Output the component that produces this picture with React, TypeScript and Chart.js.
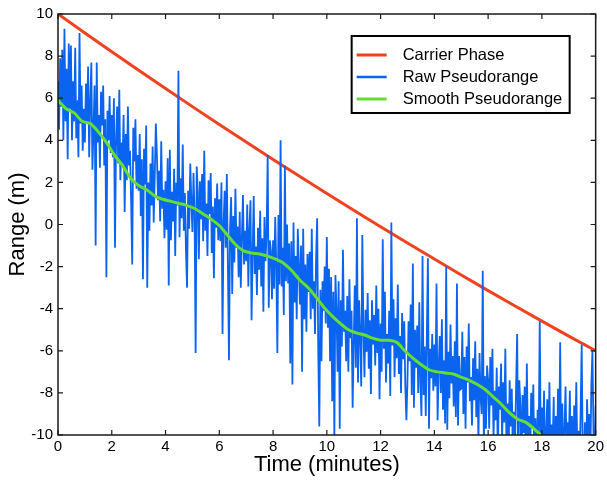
import { useEffect, useRef } from "react";
import { Chart, registerables } from "chart.js";

Chart.register(...registerables);

// ---- data ----
const xTickValues = [0, 2, 4, 6, 8, 10, 12, 14, 16, 18, 20];
const yTickValues = [-10, -8, -6, -4, -2, 0, 2, 4, 6, 8, 10];

const carrierTime = [0, 1, 2, 3, 4, 5, 6, 7, 8, 9, 10, 11, 12, 13, 14, 15, 16, 17, 18, 19, 20];
const carrierPhase = [10, 9.1, 8.21, 7.33, 6.46, 5.6, 4.75, 3.92, 3.09, 2.28, 1.47, 0.68, -0.11, -0.88, -1.64, -2.4, -3.14, -3.87, -4.59, -5.3, -6.0];

const smoothTime = [0, 0.3, 0.6, 0.9, 1.2, 1.5, 1.8, 2.1, 2.4, 2.7, 3.0, 3.3, 3.6, 3.9, 4.2, 4.5, 4.8, 5.1, 5.4, 5.7, 6.0, 6.3, 6.6, 6.9, 7.2, 7.5, 7.8, 8.1, 8.4, 8.7, 9.0, 9.3, 9.6, 9.9, 10.2, 10.5, 10.8, 11.1, 11.4, 11.7, 12.0, 12.3, 12.6, 12.9, 13.2, 13.5, 13.8, 14.1, 14.4, 14.7, 15.0, 15.3, 15.6, 15.9, 16.2, 16.5, 16.8, 17.1, 17.4, 17.7, 18.0, 18.3];
const smoothPseudorange = [5.9, 5.5, 5.3, 4.9, 4.8, 4.4, 3.9, 3.3, 2.8, 2.2, 1.85, 1.65, 1.35, 1.2, 1.1, 1.0, 0.9, 0.75, 0.5, 0.25, -0.05, -0.5, -0.95, -1.25, -1.35, -1.4, -1.5, -1.65, -1.85, -2.2, -2.65, -3.0, -3.45, -3.95, -4.35, -4.7, -5.0, -5.15, -5.25, -5.4, -5.5, -5.5, -5.6, -6.0, -6.35, -6.65, -6.9, -7.0, -7.05, -7.1, -7.25, -7.4, -7.6, -7.85, -8.2, -8.55, -8.95, -9.25, -9.4, -9.7, -10.05, -10.3];

// raw samples every 0.04 min (one row per minute)
const rawStartTime = 0;
const rawSampleMinutes = 0.04;
const rawPseudorange = [
  6.8, 4.5, 7.9, 5.6, 8.3, 4.0, 9.3, 4.9, 7.4, 3.1, 8.6, 5.5, 8.5, 4.0, 6.8, 4.9, 8.4, 4.1, 5.9, 3.2, 9.1, 4.8, 6.6, 3.5, 5.5,
  3.9, 6.7, 4.8, 7.5, 3.2, 5.8, 7.7, 2.6, 4.5, 6.6, -1.0, 7.7, 3.9, 5.2, 2.7, 6.3, 4.7, 6.6, 2.8, 5.0, -2.5, 5.4, 4.0, 6.1, 3.4,
  5.2, 3.2, 6.0, -1.1, 4.1, 5.6, 2.9, 6.4, 2.1, 3.9, 2.9, 5.2, 0.6, 4.3, 2.1, 5.6, 2.8, 3.5, 1.1, -1.9, 4.6, 3.0, 5.0, 1.7, 3.3,
  1.6, 4.3, 0.4, 3.1, -2.6, 3.6, 1.9, 4.7, -3.0, 2.0, -0.3, 2.9, 0.9, 3.7, 0.1, 2.4, 4.8, 3.25, 1.15, 2.55, 0.15, 3.95, 0.75, 1.65, -0.65,
  2.05, -0.25, 3.15, -2.9, 3.55, -0.75, 1.55, 0.15, 2.65, -1.5, 2.0, 0.9, 7.3, -0.6, 2.2, 0.3, 3.8, -0.3, 1.5, -1.2, -3.0, 1.6, -0.2, 2.9, 1.1,
  -0.35, 2.45, 0.55, -6.1, 2.75, 1.55, -1.65, 2.05, 0.25, 2.4, -0.8, 3.5, -0.3, 1.0, -1.5, 2.1, 0.5, 2.45, -1.35, 0.85, -2.55, 1.25, -0.15, 1.95, -0.75,
  1.2, -0.8, 2.0, -5.2, 0.1, 1.6, -1.1, 2.4, -1.9, -6.45, -0.2, 1.3, -3.3, 0.4, -1.8, 1.7, -1.1, -0.1, -2.5, 0.6, -3.0, -0.6, 1.4, -1.9, -0.3,
  -1.75, 0.95, -2.95, -0.25, 1.15, -4.55, -1.45, 1.35, -2.35, -1.05, -3.35, -0.15, -2.15, 0.65, -2.95, -0.65, -4.15, 0.35, -1.75, -0.35, 3.3, -3.95, -0.75, -1.25, -3.55,
  -0.75, -3.05, 0.35, -1.95, -6.1, 0.45, -2.85, 4.0, -2.95, -1.1, -4.3, 2.8, -2.7, 0.0, -2.8, -0.9, -6.6, -0.8, -7.6, 0.1, -3.7, -1.5, -4.5, -0.2, -2.0,
  -3.8, -1.0, -7.0, -0.2, -4.5, -1.9, -5.1, -1.4, -3.2, -1.3, -4.5, -0.2, -4.0, -2.7, -5.2, -1.6, 0.3, -5.9, -9.6, -3.1, -6.5, -2.7, -4.1, -2.0, -4.7,
  -0.6, -4.9, -2.1, -6.5, -2.5, -8.4, -3.2, -10.3, -2.4, -4.0, -7.0, -2.7, -9.7, -3.6, -5.8, -1.2, -5.1, -4.1, -6.5, -3.4, -7.0, -2.6, -5.4, -4.1, -8.7,
  -5.6, -2.9, -6.8, 0.3, -7.5, -3.6, -5.3, -7.7, -0.5, -4.95, -7.25, -4.05, -6.05, -3.25, -6.85, -4.55, -8.05, -3.6, -5.7, -4.3, -6.7, -2.9, -6.1, -4.0, -8.3,
  -4.7, -7.0, -0.7, -5.9, -3.2, -7.5, -5.2, -6.6, -4.1, -8.15, 0.1, -5.75, -3.55, -7.25, -4.45, -6.35, -2.85, -7.1, -5.3, -8.0, -4.2, -6.4, -4.6, -7.7, -9.3,
  -7.4, -4.6, -6.5, -3.8, -8.1, -1.85, -8.7, -5.0, -6.8, -4.8, -8.0, -3.7, -7.5, -9.1, -1.5, -8.1, -5.8, -9.1, -5.3, -1.6, -9.7, -5.9, -7.3, -5.2, -7.9,
  -5.7, -7.7, -2.8, -9.3, -6.8, -5.3, -8.0, -4.5, -8.8, -6.45, -9.45, -2.0, -9.75, -6.05, -8.25, -4.75, -7.55, -6.25, -8.65, -5.55, -9.15, -2.8, -9.55, -6.25, -7.85,
  -7.8, -5.1, -9.0, -6.3, -9.7, -5.8, -7.5, -4.7, -8.4, -7.25, -9.55, -6.35, -8.35, -5.55, -9.15, -6.85, -10.35, -6.1, -8.2, -9.0, -2.2, -10.4, -7.2, -9.7, -6.7,
  -7.4, -9.7, -6.3, -8.6, -5.9, -10.2, -7.9, -9.3, -6.8, -11.2, -7.7, -8.8, -6.6, -10.3, -7.5, -9.4, -5.9, -10.3, -8.5, -11.2, -7.4, -9.6, -7.8, -10.9, -8.9,
  -10.5, -7.7, -5.2, -11.7, -7.4, -8.6, -11.8, -8.1, -9.9, -7.7, -10.9, -6.6, -10.4, -9.1, -11.6, -8.0, -9.6, -7.6, -11.4, -9.2, -12.6, -8.8, -10.2, -4.6, -10.8,
  -8.7, -10.7, -7.9, -12.3, -9.8, -8.3, -11.0, -7.5, -11.8, -9.5, -10.5, -8.2, -12.8, -9.1, -11.3, -7.8, -10.6, -5.6, -11.6, -8.5, -12.1, -9.7, -7.7, -11.0, -9.4,
  -10.6, -7.9, -11.8, -9.1, -12.5, -8.6, -10.3, -7.5, -11.2, -9.8, -12.1, -8.9, -5.7, -11.0, -11.7, -9.4, -12.9, -8.3, -10.4, -9.0, -11.4, -7.6, -6.0, -9.9, -12.2,
  -8.6,
];

const seriesLabels = ["Carrier Phase", "Raw Pseudorange", "Smooth Pseudorange"];

const RED = "#f0421e";
const BLUE = "#0a64f0";
const GREEN = "#66dd33";
const FONT = '"Liberation Sans", Arial, Helvetica, sans-serif';

const framePlugin = {
  id: "frameAndLegend",
  afterDraw(chart: any) {
    const { ctx, chartArea: a, scales } = chart;
    ctx.save();
    // frame
    ctx.strokeStyle = "#1a1a1a";
    ctx.lineWidth = 1.5;
    ctx.strokeRect(a.left, a.top, a.right - a.left, a.bottom - a.top);
    // inward ticks on all sides
    const L = 5;
    ctx.lineWidth = 1.2;
    ctx.beginPath();
    xTickValues.forEach((v) => {
      const px = scales.x.getPixelForValue(v);
      ctx.moveTo(px, a.bottom);
      ctx.lineTo(px, a.bottom - L);
      ctx.moveTo(px, a.top);
      ctx.lineTo(px, a.top + L);
    });
    yTickValues.forEach((v) => {
      const py = scales.y.getPixelForValue(v);
      ctx.moveTo(a.left, py);
      ctx.lineTo(a.left + L, py);
      ctx.moveTo(a.right, py);
      ctx.lineTo(a.right - L, py);
    });
    ctx.stroke();

    // legend box
    const boxRight = a.right - 26;
    const boxLeft = boxRight - 218;
    const boxTop = a.top + 22;
    const boxH = 77;
    ctx.fillStyle = "#ffffff";
    ctx.fillRect(boxLeft, boxTop, boxRight - boxLeft, boxH);
    ctx.strokeStyle = "#000000";
    ctx.lineWidth = 2;
    ctx.strokeRect(boxLeft, boxTop, boxRight - boxLeft, boxH);

    const ds = chart.data.datasets;
    ctx.font = `16.5px ${FONT}`;
    ctx.textBaseline = "middle";
    ctx.textAlign = "left";
    seriesLabels.forEach((label, i) => {
      const d = ds.find((x: any) => x.label === label);
      const y = boxTop + 19 + i * 22;
      ctx.strokeStyle = d.borderColor;
      ctx.lineWidth = i === 1 ? 2.5 : 3;
      ctx.beginPath();
      ctx.moveTo(boxLeft + 5, y);
      ctx.lineTo(boxLeft + 35, y);
      ctx.stroke();
      ctx.fillStyle = "#000000";
      ctx.fillText(label, boxLeft + 51, y);
    });
    ctx.restore();
  },
};

export default function App() {
  const ref = useRef<HTMLCanvasElement | null>(null);

  useEffect(() => {
    document.body.style.margin = "0";
    const canvas = ref.current;
    if (!canvas) return;

    const carrierData = carrierTime.map((t, i) => ({ x: t, y: carrierPhase[i] }));
    const rawData = rawPseudorange.map((v, i) => ({ x: rawStartTime + i * rawSampleMinutes, y: v }));
    const smoothData = smoothTime.map((t, i) => ({ x: t, y: smoothPseudorange[i] }));

    const chart = new Chart(canvas, {
      type: "line",
      data: {
        datasets: [
          {
            label: seriesLabels[0],
            data: carrierData,
            borderColor: RED,
            borderWidth: 3,
            pointRadius: 0,
            order: 3,
          },
          {
            label: seriesLabels[1],
            data: rawData,
            borderColor: BLUE,
            borderWidth: 1.8,
            borderJoinStyle: "miter",
            pointRadius: 0,
            order: 2,
          },
          {
            label: seriesLabels[2],
            data: smoothData,
            borderColor: GREEN,
            borderWidth: 3,
            pointRadius: 0,
            tension: 0.3,
            order: 1,
          },
        ],
      },
      options: {
        animation: false,
        responsive: false,
        devicePixelRatio: 1,
        layout: { padding: { top: 13, right: 11, left: 0, bottom: 0 } },
        plugins: {
          legend: { display: false },
          tooltip: { enabled: false },
        },
        scales: {
          x: {
            type: "linear",
            min: 0,
            max: 20,
            grid: { display: false, drawTicks: false },
            border: { display: false },
            afterFit: (s: any) => {
              s.height = 45;
            },
            ticks: {
              stepSize: 2,
              padding: 3,
              color: "#000",
              font: { family: FONT, size: 15 },
              maxRotation: 0,
            },
            title: {
              display: true,
              text: "Time (minutes)",
              color: "#000",
              font: { family: FONT, size: 22 },
              padding: { top: 0, bottom: 2 },
            },
          },
          y: {
            type: "linear",
            min: -10,
            max: 10,
            grid: { display: false, drawTicks: false },
            border: { display: false },
            afterFit: (s: any) => {
              s.width = 58;
            },
            ticks: {
              stepSize: 2,
              padding: 5,
              color: "#000",
              font: { family: FONT, size: 15 },
            },
            title: {
              display: true,
              text: "Range (m)",
              color: "#000",
              font: { family: FONT, size: 22 },
              padding: { top: 5, bottom: 0 },
            },
          },
        },
      },
      plugins: [framePlugin],
    });

    return () => chart.destroy();
  }, []);

  return <canvas ref={ref} width={607} height={480} style={{ display: "block" }} />;
}
